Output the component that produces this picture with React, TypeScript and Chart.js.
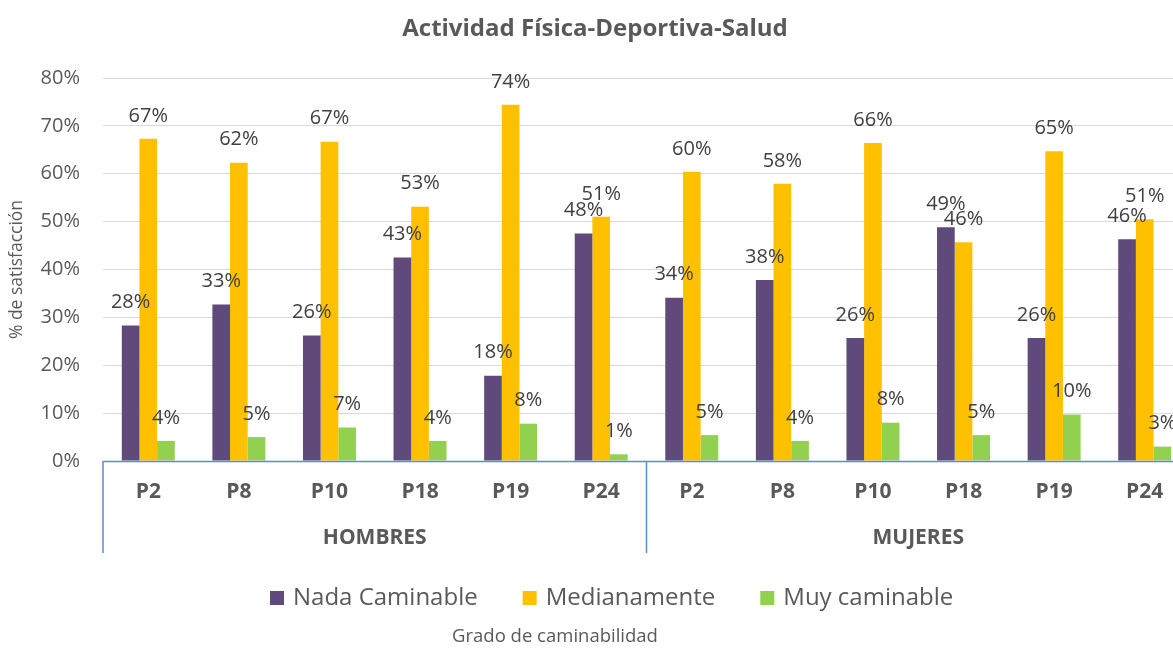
import React, { useEffect, useRef } from "react";
import { Chart, registerables } from "chart.js";

Chart.register(...registerables);

const categories = ["P2", "P8", "P10", "P18", "P19", "P24", "P2", "P8", "P10", "P18", "P19", "P24"];
const groups = ["HOMBRES", "MUJERES"];
const groupSize = 6;
const seriesNames = ["Nada Caminable", "Medianamente", "Muy caminable"];
const nadaCaminable = [28.3, 32.7, 26.2, 42.5, 17.8, 47.5, 34.1, 37.8, 25.7, 48.8, 25.7, 46.3];
const medianamente = [67.3, 62.3, 66.7, 53.1, 74.4, 51.0, 60.4, 57.9, 66.4, 45.7, 64.7, 50.5];
const muyCaminable = [4.2, 5.0, 7.0, 4.2, 7.8, 1.4, 5.4, 4.2, 8.0, 5.4, 9.7, 3.0];
const yTicks = [0, 10, 20, 30, 40, 50, 60, 70, 80];
const colors = ["#604A7B", "#FFC000", "#92D050"];
const chartTitle = "Actividad Física-Deportiva-Salud";
const yTitle = "% de satisfacción";
const xTitle = "Grado de caminabilidad";

const FONT = "'Open Sans', 'Noto Sans', sans-serif";
const TEXT = "#595959";
const AXIS_BLUE = "#5B8DCB";

const customDraw = {
  id: "customDraw",
  afterDatasetsDraw(chart: any) {
    const { ctx, chartArea } = chart;
    const xs = chart.scales.x;
    ctx.save();
    // data labels
    ctx.font = `20px ${FONT}`;
    ctx.fillStyle = "#404040";
    ctx.textAlign = "center";
    ctx.textBaseline = "middle";
    chart.data.datasets.forEach((ds: any, di: number) => {
      const meta = chart.getDatasetMeta(di);
      meta.data.forEach((bar: any, i: number) => {
        const v = ds.data[i];
        ctx.fillText(Math.round(v) + "%", bar.x, bar.y - 23);
      });
    });

    // axis and separators
    const n = categories.length;
    const catW = xs.getPixelForValue(1) - xs.getPixelForValue(0);
    const bottom = chartArea.bottom;
    ctx.strokeStyle = AXIS_BLUE;
    ctx.lineWidth = 1.5;
    ctx.beginPath();
    ctx.moveTo(chartArea.left, bottom + 0.5);
    ctx.lineTo(chartArea.right, bottom + 0.5);
    for (let g = 0; g <= groups.length; g++) {
      const idx = g * groupSize;
      const x = xs.getPixelForValue(0) - catW / 2 + idx * catW;
      ctx.moveTo(x, bottom);
      ctx.lineTo(x, bottom + 92);
    }
    ctx.stroke();

    // category labels
    ctx.fillStyle = TEXT;
    ctx.font = `bold 21px ${FONT}`;
    for (let i = 0; i < n; i++) {
      ctx.fillText(categories[i], xs.getPixelForValue(i), bottom + 31);
    }
    groups.forEach((g, gi) => {
      const x0 = xs.getPixelForValue(gi * groupSize);
      const x1 = xs.getPixelForValue(gi * groupSize + groupSize - 1);
      ctx.fillText(g, (x0 + x1) / 2, bottom + 77);
    });

    // legend
    ctx.font = `24px ${FONT}`;
    ctx.textAlign = "left";
    let lx = 270;
    const ly = 598;
    seriesNames.forEach((name, i) => {
      ctx.fillStyle = colors[i];
      ctx.fillRect(lx, ly - 7, 14, 14);
      ctx.fillStyle = TEXT;
      ctx.fillText(name, lx + 23, ly);
      lx += 23 + ctx.measureText(name).width + 45;
    });

    // x title
    ctx.font = `18.5px ${FONT}`;
    ctx.textAlign = "center";
    ctx.fillText(xTitle, 555, 637);
    ctx.restore();
  },
};

export default function App() {
  const ref = useRef<HTMLCanvasElement>(null);
  useEffect(() => {
    if (!ref.current) return;
    const chart = new Chart(ref.current, {
      type: "bar",
      data: {
        labels: categories,
        datasets: [
          { label: seriesNames[0], data: nadaCaminable, backgroundColor: colors[0] },
          { label: seriesNames[1], data: medianamente, backgroundColor: colors[1] },
          { label: seriesNames[2], data: muyCaminable, backgroundColor: colors[2] },
        ],
      },
      options: {
        responsive: false,
        animation: false,
        layout: { padding: 0 },
        datasets: { bar: { barPercentage: 1, categoryPercentage: 0.585 } },
        plugins: {
          legend: { display: false },
          tooltip: { enabled: false },
          title: {
            display: true,
            text: chartTitle,
            color: TEXT,
            font: { family: FONT, size: 24, weight: "bold" },
            padding: { top: 15, bottom: 34.2 },
          },
        },
        scales: {
          x: {
            grid: { display: false },
            border: { display: false },
            ticks: { display: false },
            afterFit: (s: any) => {
              s.height = 187;
            },
          },
          y: {
            min: 0,
            max: 80,
            afterBuildTicks: (s: any) => {
              s.ticks = yTicks.map((v) => ({ value: v }));
            },
            grid: { color: "#D9D9D9", drawTicks: false, lineWidth: 1 },
            border: { display: false },
            ticks: {
              padding: 23,
              color: TEXT,
              font: { family: FONT, size: 20 },
              callback: (v: any) => v + "%",
            },
            title: {
              display: true,
              text: yTitle,
              color: TEXT,
              font: { family: FONT, size: 17.5 },
              padding: { top: 7, bottom: 0 },
            },
            afterFit: (s: any) => {
              s.width = 103;
            },
          },
        },
      },
      plugins: [customDraw],
    });
    return () => chart.destroy();
  }, []);
  return (
    <div style={{ position: "fixed", left: 0, top: 0, width: 1173, height: 648, overflow: "hidden", background: "#fff" }}>
      <canvas ref={ref} width={1190} height={648} style={{ display: "block" }} />
    </div>
  );
}
